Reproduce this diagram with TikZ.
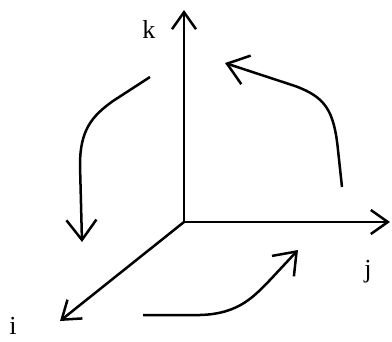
\documentclass[tikz,border=0pt]{standalone}
\usepackage{fontspec}
\setmainfont{Liberation Serif}
\usetikzlibrary{arrows.meta}
\begin{document}
\begin{tikzpicture}[x=1pt,y=-1pt,
  axis/.style={line width=2.5pt,-{Straight Barb[length=17pt,width=24pt,line width=2.5pt]}},
  rot/.style={line width=2.5pt,-{Straight Barb[length=20pt,width=30pt,line width=2.5pt]}},
  lbl/.style={font=\fontsize{26}{30}\selectfont,inner sep=0pt,anchor=base}]
\useasboundingbox (0,0) rectangle (392,341);
\coordinate (O) at (184,222);
\coordinate (K) at (184,10);
\coordinate (J) at (390,222);
\coordinate (I) at (60,321);
\draw[axis] (O) -- (K);
\draw[axis] (O) -- (J);
\draw[axis] (O) -- (I);
\node[lbl] (k) at (149,38) {k};
\node[lbl] (j) at (368,277) {j};
\node[lbl] (i) at (13,334) {i};
% rotation arrows
\coordinate (a1) at (150,77);
\coordinate (a2) at (82,242);
\draw[rot] (a1) -- (113,101) .. controls (92,116) and (80,130) .. (80,165) -- (a2);
\coordinate (b1) at (342,187);
\coordinate (b2) at (225,63);
\draw[rot] (b1) -- (338,150) .. controls (334,110) and (325,97) .. (295,86) -- (b2);
\coordinate (c1) at (143,315);
\coordinate (c2) at (298,250);
\draw[rot] (c1) -- (200,315) .. controls (240,314) and (255,295) .. (270,280) -- (c2);
\end{tikzpicture}
\end{document}
